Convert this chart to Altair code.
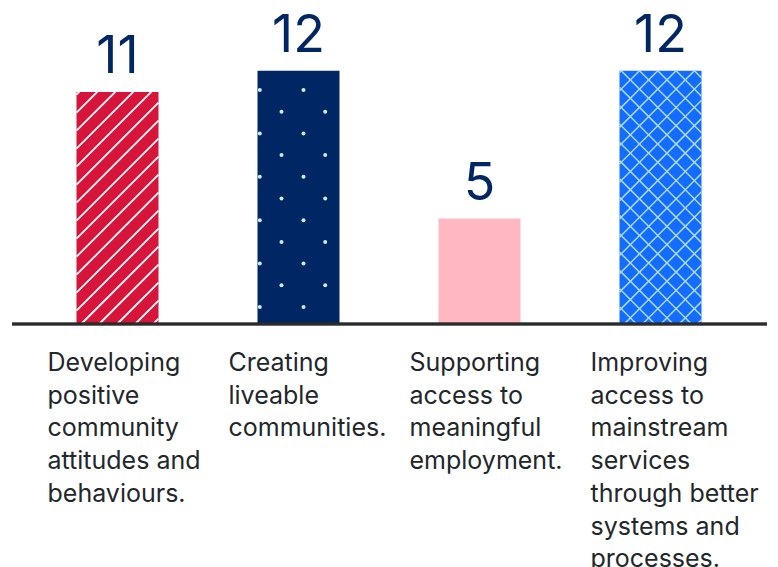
import math

import altair as alt
import pandas as pd

# ---- data -------------------------------------------------------------
CATEGORIES = [
    "Developing positive community attitudes and behaviours.",
    "Creating liveable communities.",
    "Supporting access to meaningful employment.",
    "Improving access to mainstream services through better systems and processes.",
]
LABEL_LINES = [
    ["Developing", "positive", "community", "attitudes and", "behaviours."],
    ["Creating", "liveable", "communities."],
    ["Supporting", "access to", "meaningful", "employment."],
    ["Improving", "access to", "mainstream", "services", "through better",
     "systems and", "processes."],
]
VALUES = [11, 12, 5, 12]
BAR_COLORS = ["#D7153A", "#002664", "#FFB8C1", "#146CFD"]
PATTERNS = ["stripes", "dots", "plain", "crosshatch"]

# ---- layout (pixels) --------------------------------------------------
CANVAS_W, CANVAS_H = 778, 567
PX_PER_CAT = 181.0        # distance between neighbouring bars
PX_PER_UNIT = 21.1        # pixels per count on the value axis
BASELINE_PX = 324         # where zero sits, from the top
BAR_PX = 82               # bar width
HALF = BAR_PX / 2 / PX_PER_CAT

x_domain = [1.5 - CANVAS_W / 2 / PX_PER_CAT, 1.5 + CANVAS_W / 2 / PX_PER_CAT]
y_domain = [-(CANVAS_H - BASELINE_PX) / PX_PER_UNIT, BASELINE_PX / PX_PER_UNIT]

bars = pd.DataFrame({
    "idx": list(range(len(CATEGORIES))),
    "category": CATEGORIES,
    "value": VALUES,
    "color": BAR_COLORS,
    "label": ["\n".join(lines) for lines in LABEL_LINES],
})
bars["left"] = bars["idx"] - HALF
bars["right"] = bars["idx"] + HALF
bars["zero"] = 0


# ---- fill patterns, built in bar-local pixels then mapped to data units --
def to_data(i, u, v):
    return i - HALF + u / PX_PER_CAT, v / PX_PER_UNIT


def rising(w, h, c):
    """Segment of u - v = c clipped to the w x h box (v measured upwards)."""
    u1, u2 = max(0.0, c), min(w, h + c)
    if u2 - u1 > 0.3:
        return u1, u1 - c, u2, u2 - c
    return None


def falling(w, h, c):
    """Segment of u + v = c clipped to the w x h box."""
    u1, u2 = max(0.0, c - h), min(w, c)
    if u2 - u1 > 0.3:
        return u1, c - u1, u2, c - u2
    return None


def add_segment(rows, i, seg):
    if seg is None:
        return
    u1, v1, u2, v2 = seg
    x1, y1 = to_data(i, u1, v1)
    x2, y2 = to_data(i, u2, v2)
    rows.append({"x": x1, "y": y1, "x2": x2, "y2": y2})


stripe_rows, hatch_rows, dot_rows = [], [], []
for i, (val, pat) in enumerate(zip(VALUES, PATTERNS)):
    h = val * PX_PER_UNIT
    w = float(BAR_PX)
    if pat == "stripes":
        for m in range(-40, 40):
            add_segment(stripe_rows, i, rising(w, h, 4.7 + 18.0 * m))
    elif pat == "crosshatch":
        for n in range(-40, 40):
            u0 = 1.7 + 18.3 * n
            add_segment(hatch_rows, i, rising(w, h, u0 - h))
            add_segment(hatch_rows, i, falling(w, h, u0 + h))
    elif pat == "dots":
        m = 0
        while 17 + 21.7 * m + 2.5 <= h:
            v = 17 + 21.7 * m
            u = 2.3 if m % 2 == 0 else 24.0
            while u <= w - 2:
                x, y = to_data(i, u, v)
                dot_rows.append({"x": x, "y": y})
                u += 43.7
            m += 1

stripes = pd.DataFrame(stripe_rows)
hatch = pd.DataFrame(hatch_rows)
dots = pd.DataFrame(dot_rows)

# ---- shared scales ----------------------------------------------------
xs = alt.Scale(domain=x_domain, nice=False, zero=False)
ys = alt.Scale(domain=y_domain, nice=False, zero=False)
noaxis = None

bar_layer = alt.Chart(bars).mark_rect().encode(
    x=alt.X("left:Q", scale=xs, axis=noaxis),
    x2="right:Q",
    y=alt.Y("zero:Q", scale=ys, axis=noaxis),
    y2="value:Q",
    color=alt.Color("color:N", scale=None),
)

stripe_layer = alt.Chart(stripes).mark_rule(
    color="#FFFFFF", strokeWidth=1.8
).encode(
    x=alt.X("x:Q", scale=xs, axis=noaxis),
    x2="x2:Q",
    y=alt.Y("y:Q", scale=ys, axis=noaxis),
    y2="y2:Q",
)

hatch_layer = alt.Chart(hatch).mark_rule(
    color="#A9DBFF", strokeWidth=1.5
).encode(
    x=alt.X("x:Q", scale=xs, axis=noaxis),
    x2="x2:Q",
    y=alt.Y("y:Q", scale=ys, axis=noaxis),
    y2="y2:Q",
)

dot_layer = alt.Chart(dots).mark_circle(
    color="#CBEDFD", opacity=1, size=16
).encode(
    x=alt.X("x:Q", scale=xs, axis=noaxis),
    y=alt.Y("y:Q", scale=ys, axis=noaxis),
)

baseline = alt.Chart(bars).mark_rule(
    color="#2B2B2B", strokeWidth=2.6
).encode(
    x=alt.value(12),
    x2=alt.value(767),
    y=alt.Y("zero:Q", scale=ys, axis=noaxis),
)

value_text = alt.Chart(bars).mark_text(
    font="Inter", fontSize=52, fontWeight=400, color="#002664",
    align="center", baseline="alphabetic", dy=-19,
).encode(
    x=alt.X("idx:Q", scale=xs, axis=noaxis),
    y=alt.Y("value:Q", scale=ys, axis=noaxis),
    text="value:Q",
)

label_text = alt.Chart(bars).mark_text(
    font="Inter", fontSize=25, color="#22272B", lineBreak="\n",
    lineHeight=32.7, align="left", baseline="alphabetic", dx=-29, dy=47,
).encode(
    x=alt.X("left:Q", scale=xs, axis=noaxis),
    y=alt.Y("zero:Q", scale=ys, axis=noaxis),
    text="label:N",
)

chart = alt.layer(
    bar_layer, stripe_layer, hatch_layer, dot_layer, baseline,
    value_text, label_text,
).properties(
    width=CANVAS_W, height=CANVAS_H,
    autosize=alt.AutoSizeParams(type="none"),
    padding=0,
).configure_view(stroke=None)

chart.save("out.html", embed_options={"renderer": "svg", "actions": False})
